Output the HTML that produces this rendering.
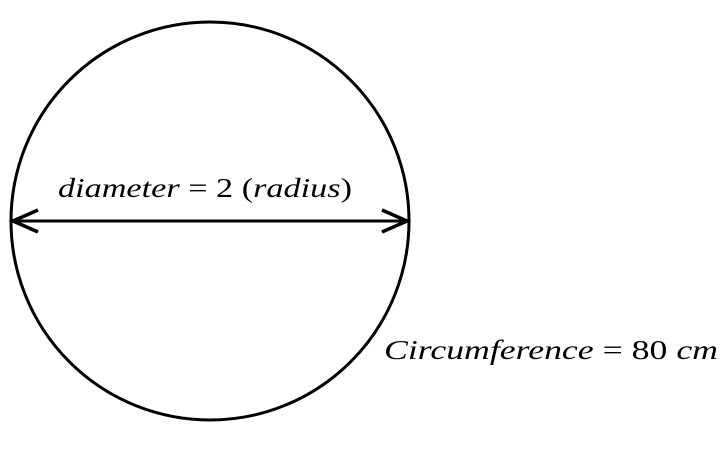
<!DOCTYPE html>
<html><head><style>
html,body{margin:0;padding:0;background:#fff;}
svg{display:block;}
text{font-family:"Liberation Serif",serif;font-size:27px;fill:#000;}
</style></head><body>
<svg width="721" height="454" viewBox="0 0 721 454">
<circle cx="210" cy="221" r="199" fill="none" stroke="#000" stroke-width="3"/>
<line x1="12" y1="221" x2="408" y2="221" stroke="#000" stroke-width="3"/>
<polyline points="38,210 13,221 38,232" fill="none" stroke="#000" stroke-width="3.5"/>
<polyline points="382,210 407,221 382,232" fill="none" stroke="#000" stroke-width="3.5"/>
<text x="58" y="197" textLength="294" lengthAdjust="spacingAndGlyphs"><tspan font-style="italic">diameter</tspan> = 2 (<tspan font-style="italic">radius</tspan>)</text>
<text x="384" y="359" textLength="334" lengthAdjust="spacingAndGlyphs"><tspan font-style="italic">Circumference</tspan> = 80 <tspan font-style="italic">cm</tspan></text>
</svg>
</body></html>
